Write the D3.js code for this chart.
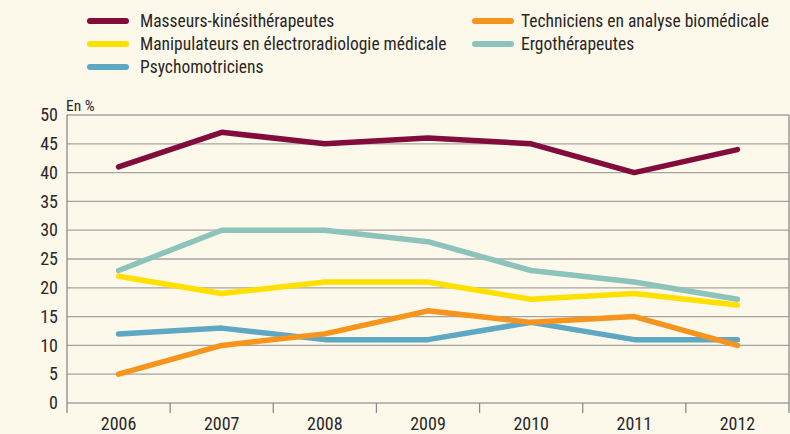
<!DOCTYPE html>
<html><head><meta charset="utf-8">
<script src="https://cdn.jsdelivr.net/npm/d3@7"></script>
<style>
html,body{margin:0;padding:0;background:#fdf9ea;}
svg{display:block;}
text{font-family:"Liberation Sans Narrow","Arial Narrow","Roboto Condensed","Liberation Sans",sans-serif;fill:#2a2627;}
</style></head><body>
<svg id="c" width="790" height="434"></svg>
<script>
const years = ["2006","2007","2008","2009","2010","2011","2012"];
const seriesNames = ["Masseurs-kinésithérapeutes","Techniciens en analyse biomédicale","Manipulateurs en électroradiologie médicale","Ergothérapeutes","Psychomotriciens"];
const masseurs = [41,47,45,46,45,40,44];
const techniciens = [5,10,12,16,14,15,10];
const manipulateurs = [22,19,21,21,18,19,17];
const ergo = [23,30,30,28,23,21,18];
const psycho = [12,13,11,11,14,11,11];
const yTicks = [0,5,10,15,20,25,30,35,40,45,50];
const colors = ["#820c3c","#f7941d","#ffe000","#8cc3bb","#5fa8c3"];

const series = [
  {name:seriesNames[0], values:masseurs, color:colors[0]},
  {name:seriesNames[1], values:techniciens, color:colors[1]},
  {name:seriesNames[2], values:manipulateurs, color:colors[2]},
  {name:seriesNames[3], values:ergo, color:colors[3]},
  {name:seriesNames[4], values:psycho, color:colors[4]}
];

const svg = d3.select("#c");
const L=67, R=789, T=115, B=403;
const x = d3.scaleBand().domain(years).range([L,R]);
const y = d3.scaleLinear().domain([0,50]).range([B,T]);

// gridlines
svg.append("g").selectAll("line").data(yTicks).join("line")
  .attr("x1",L).attr("x2",R).attr("y1",d=>y(d)).attr("y2",d=>y(d))
  .attr("stroke","#a3a3a3").attr("stroke-width",1.3);

// y axis
const ya = svg.append("g").attr("transform",`translate(${L},0)`)
  .call(d3.axisLeft(y).tickValues(yTicks).tickSize(0).tickPadding(9));
ya.select(".domain").remove();
ya.selectAll("text").attr("font-size",18).style("font-family",null);
svg.append("line").attr("x1",L).attr("x2",L).attr("y1",T).attr("y2",B+10).attr("stroke","#8a8a8a").attr("stroke-width",1.3);
svg.append("line").attr("x1",R).attr("x2",R).attr("y1",T).attr("y2",B+10).attr("stroke","#8a8a8a").attr("stroke-width",1.3);

// x axis
const xa = svg.append("g").attr("transform",`translate(0,${B})`)
  .call(d3.axisBottom(x).tickSize(0).tickPadding(14));
xa.select(".domain").remove();
xa.selectAll("text").attr("font-size",18).style("font-family",null);
svg.append("g").selectAll("line").data(years.slice(1)).join("line")
  .attr("x1",d=>x(d)).attr("x2",d=>x(d)).attr("y1",B).attr("y2",B+10)
  .attr("stroke","#8a8a8a").attr("stroke-width",1.3);

svg.append("text").attr("x",L-1).attr("y",T-4).attr("font-size",15.5).text("En %");

// lines
const line = d3.line().x((d,i)=>x(years[i])+x.bandwidth()/2).y(d=>y(d));
const drawOrder = [3,2,4,1,0];
drawOrder.forEach(k=>{
  svg.append("path").datum(series[k].values).attr("d",line)
    .attr("fill","none").attr("stroke",series[k].color).attr("stroke-width",5.5)
    .attr("stroke-linecap","round").attr("stroke-linejoin","round");
});

// legend
const legPos = [[87,21,140],[472,21,521],[87,44,140],[472,44,521],[87,67,140]];
series.forEach((s,i)=>{
  const [lx,ly,tx]=legPos[i];
  svg.append("line").attr("x1",lx+3).attr("x2",lx+39).attr("y1",ly).attr("y2",ly)
    .attr("stroke",s.color).attr("stroke-width",6).attr("stroke-linecap","round");
  svg.append("text").attr("x",tx).attr("y",ly+6).attr("font-size",17.5).text(s.name);
});
</script></body></html>
